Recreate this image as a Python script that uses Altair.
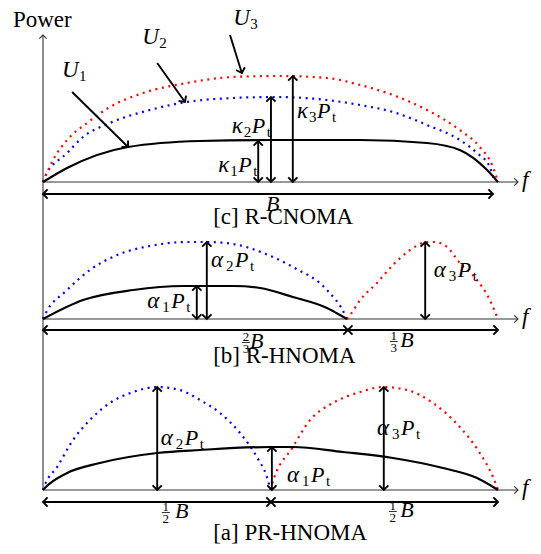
import math
import altair as alt
import pandas as pd

# ---------------- coordinate frame (x in units of B, y in power units) ----------
W, HGT = 525, 538
X_DOMAIN = [-35 / 455, 490 / 455]
Y_DOMAIN = [482 - HGT, 482]
PX = 455.0                       # pixels per B (used only for small label offsets)
OFFSET = {"c": 308, "b": 171, "a": 0}   # vertical offset of each panel's f-axis
SERIF = "Liberation Serif"

# ---------------- spectra (x as fraction of B, power height) --------------------
c_black_x = [0, 0.053, 0.187, 0.345, 0.499, 0.631, 0.697, 0.844, 0.916, 0.976, 1.0]
c_black_h = [0, 14, 35, 41, 42, 42, 42, 39, 32, 12, 0]
c_blue_x = [0, 0.004, 0.053, 0.088, 0.147, 0.235, 0.316, 0.418, 0.510, 0.624, 0.697, 0.769, 0.844, 0.916, 0.954, 0.982, 0.993]
c_blue_h = [0, 5, 29, 45, 59, 72, 80, 84, 85, 82, 77, 70, 57, 42, 29, 15, 0]
c_red_x = [0, 0.022, 0.053, 0.097, 0.147, 0.220, 0.316, 0.418, 0.520, 0.624, 0.697, 0.769, 0.844, 0.916, 0.960, 0.989, 1.0]
c_red_h = [0, 22, 42, 59, 75, 89, 99, 105, 106, 104, 97, 87, 72, 52, 35, 15, 0]

b_blue_x = [0, 0.004, 0.053, 0.103, 0.163, 0.235, 0.316, 0.360, 0.418, 0.484, 0.549, 0.624, 0.664, 0.668]
b_blue_h = [0, 4, 29, 49, 64, 73, 77, 77, 75, 66, 52, 29, 4, 0]
b_black_x = [0, 0.088, 0.198, 0.308, 0.418, 0.477, 0.549, 0.624, 0.664, 0.668]
b_black_h = [0, 19, 29, 33, 33, 31, 22, 11, 1, 0]
b_red_x = [0.668, 0.675, 0.697, 0.734, 0.769, 0.807, 0.844, 0.860, 0.888, 0.916, 0.954, 0.982, 1.0]
b_red_h = [0, 4, 19, 36, 54, 69, 77, 77, 72, 56, 39, 19, 0]

a_blue_x = [0, 0.004, 0.031, 0.066, 0.103, 0.147, 0.198, 0.251, 0.301, 0.345, 0.389, 0.433, 0.470, 0.492, 0.5]
a_blue_h = [0, 5, 23, 50, 70, 87, 98, 103, 100, 90, 77, 57, 33, 13, 0]
a_red_x = [0.5, 0.503, 0.549, 0.587, 0.637, 0.697, 0.747, 0.800, 0.857, 0.916, 0.960, 0.989, 1.0]
a_red_h = [0, 5, 43, 70, 87, 98, 103, 100, 87, 63, 37, 13, 0]
a_black_x = [0, 0.004, 0.053, 0.125, 0.251, 0.345, 0.499, 0.549, 0.659, 0.769, 0.879, 0.954, 1.0]
a_black_h = [0, 2, 17, 27, 37, 40, 43, 43, 38, 32, 22, 12, 0]

curves = [
    ("c", "black", False, c_black_x, c_black_h),
    ("c", "blue", True, c_blue_x, c_blue_h),
    ("c", "red", True, c_red_x, c_red_h),
    ("b", "blue", True, b_blue_x, b_blue_h),
    ("b", "black", False, b_black_x, b_black_h),
    ("b", "red", True, b_red_x, b_red_h),
    ("a", "blue", True, a_blue_x, a_blue_h),
    ("a", "red", True, a_red_x, a_red_h),
    ("a", "black", False, a_black_x, a_black_h),
]

# power arrows: (panel, x, height)
power_arrows = [
    ("c", 0.473, 41), ("c", 0.501, 85), ("c", 0.549, 106),
    ("b", 0.338, 33), ("b", 0.360, 77), ("b", 0.840, 77),
    ("a", 0.251, 103), ("a", 0.503, 43), ("a", 0.749, 103),
]
# bandwidth arrows: (panel, x0, x1, y)
band_arrows = [
    ("c", 0.0, 0.989, -12),
    ("b", 0.0, 0.670, -11), ("b", 0.670, 1.0, -11),
    ("a", 0.0, 0.501, -12), ("a", 0.501, 1.0, -12),
]
X_AXIS_END = 1.044
Y_AXIS_TOP = 455
# user pointer arrows (absolute coordinates): (x0, y0, x1, y1)
user_arrows = [
    (0.064, 398, 0.187, 343),
    (0.251, 427, 0.312, 388),
    (0.411, 455, 0.437, 417),
]

# ---------------- labels ----------------
# math labels: (greek, sub, x, y)
math_labels = [
    ("κ", "1", 0.385, 318), ("κ", "2", 0.415, 357), ("κ", "3", 0.558, 372),
    ("α", "1", 0.229, 182), ("α", "2", 0.369, 223), ("α", "3", 0.859, 213),
    ("α", "2", 0.259, 45), ("α", "1", 0.536, 8), ("α", "3", 0.734, 55),
]
user_labels = [("1", 0.042, 413), ("2", 0.218, 446), ("3", 0.418, 465)]
captions = [("[c] R-CNOMA", 0.374, 266), ("[b] R-HNOMA", 0.374, 127), ("[a] PR-HNOMA", 0.374, -50)]
# fractions of B: (num, den, centre x, B start x, baseline y)
fractions = [
    ("2", "3", 0.446, 0.455, 142), ("1", "3", 0.771, 0.785, 143),
    ("1", "2", 0.270, 0.290, -28), ("1", "2", 0.769, 0.785, -27),
]
plain_B = (0.490, 279)
power_label = ("Power", -0.066, 463)
f_label_x = 1.0527

MATH_SIZE, SUB_SIZE, CAP_SIZE, FRAC_SIZE = 23, 15, 23, 13

# ---------------- build tables ----------------
rows = []
for i, (p, col, dot, xs, hs) in enumerate(curves):
    for x, h in zip(xs, hs):
        rows.append(dict(id=i, x=x, y=OFFSET[p] + h, color=col, dotted=dot))
curve_df = pd.DataFrame(rows)

rules, heads = [], []


def heading(dx, dy):
    return math.degrees(math.atan2(-dy, dx * PX)) % 360


for p, x, h in power_arrows:
    o = OFFSET[p]
    rules.append(dict(x=x, x2=x, y=o, y2=o + h, kind="thick"))
    heads.append(dict(x=x, y=o + h, angle=270, kind="thick"))
    heads.append(dict(x=x, y=o, angle=90, kind="thick"))
for p, x0, x1, yy in band_arrows:
    o = OFFSET[p] + yy
    rules.append(dict(x=x0, x2=x1, y=o, y2=o, kind="thick"))
    heads.append(dict(x=x0, y=o, angle=180, kind="thick"))
    heads.append(dict(x=x1, y=o, angle=0, kind="thick"))
for x0, y0, x1, y1 in user_arrows:
    rules.append(dict(x=x0, x2=x1, y=y0, y2=y1, kind="thick"))
    heads.append(dict(x=x1, y=y1, angle=heading(x1 - x0, y1 - y0), kind="thick"))
for p, o in OFFSET.items():
    rules.append(dict(x=0, x2=X_AXIS_END, y=o, y2=o, kind="thin"))
    heads.append(dict(x=X_AXIS_END, y=o, angle=0, kind="thin"))
rules.append(dict(x=0, x2=0, y=0, y2=Y_AXIS_TOP, kind="thin"))
heads.append(dict(x=0, y=Y_AXIS_TOP, angle=270, kind="thin"))
for num, den, cx, bx, by in fractions:
    rules.append(dict(x=cx - 4 / PX, x2=cx + 4 / PX, y=by + 5.5, y2=by + 5.5, kind="bar"))
rule_df = pd.DataFrame(rules)
head_df = pd.DataFrame(heads)

texts = []
OFFS = {"κ": [0, 12, 20, 35], "α": [0, 15, 24, 39]}
for g, s, x, y in math_labels:
    o = OFFS[g]
    texts.append(dict(x=x + o[0] / PX, y=y, text=g, size=MATH_SIZE, it=True))
    texts.append(dict(x=x + o[1] / PX, y=y - 4, text=s, size=SUB_SIZE, it=False))
    texts.append(dict(x=x + o[2] / PX, y=y, text="P", size=MATH_SIZE - 1, it=True))
    texts.append(dict(x=x + o[3] / PX, y=y - 4, text="t", size=SUB_SIZE, it=False))
for s, x, y in user_labels:
    texts.append(dict(x=x, y=y, text="U", size=23, it=True))
    texts.append(dict(x=x + 17 / PX, y=y - 4, text=s, size=SUB_SIZE, it=False))
for t, x, y in captions:
    texts.append(dict(x=x, y=y, text=t, size=CAP_SIZE, it=False))
for num, den, cx, bx, by in fractions:
    texts.append(dict(x=cx - 3.3 / PX, y=by + 7.5, text=num, size=FRAC_SIZE, it=False))
    texts.append(dict(x=cx - 3.3 / PX, y=by - 5, text=den, size=FRAC_SIZE, it=False))
    texts.append(dict(x=bx, y=by, text="B", size=MATH_SIZE - 1, it=True))
texts.append(dict(x=plain_B[0], y=plain_B[1], text="B", size=MATH_SIZE - 1, it=True))
texts.append(dict(x=power_label[1], y=power_label[2], text=power_label[0], size=CAP_SIZE, it=False))
for p, o in OFFSET.items():
    texts.append(dict(x=f_label_x, y=o - 5, text="f", size=23, it=True))
text_df = pd.DataFrame(texts)

# ---------------- chart ----------------
xs = alt.Scale(domain=X_DOMAIN, nice=False, zero=False)
ys = alt.Scale(domain=Y_DOMAIN, nice=False, zero=False)
X = alt.X("x:Q", scale=xs, axis=None)
Y = alt.Y("y:Q", scale=ys, axis=None)

solid = alt.Chart(curve_df[~curve_df["dotted"]]).mark_line(
    strokeWidth=2.2, interpolate="monotone"
).encode(X, Y, detail="id:N", color=alt.Color("color:N", scale=None))
dotted = alt.Chart(curve_df[curve_df["dotted"]]).mark_line(
    strokeWidth=2.2, interpolate="monotone", strokeDash=[2, 4.6]
).encode(X, Y, detail="id:N", color=alt.Color("color:N", scale=None))

R = alt.Chart(rule_df)
thin_rules = R.transform_filter(alt.datum.kind == "thin").mark_rule(
    strokeWidth=1.1, color="#333333"
).encode(X, Y, x2="x2:Q", y2="y2:Q")
thick_rules = R.transform_filter(alt.datum.kind == "thick").mark_rule(
    strokeWidth=1.9, color="black"
).encode(X, Y, x2="x2:Q", y2="y2:Q")
bars = R.transform_filter(alt.datum.kind == "bar").mark_rule(
    strokeWidth=0.8, color="black"
).encode(X, Y, x2="x2:Q", y2="y2:Q")

CHEVRON = "M -1 -1 L 0 0 L -1 1"
H = alt.Chart(head_df)
thick_heads = H.transform_filter(alt.datum.kind == "thick").mark_point(
    shape=CHEVRON, filled=False, size=85, strokeWidth=1.9, color="black", opacity=1
).encode(X, Y, angle=alt.Angle("angle:Q", scale=None))
thin_heads = H.transform_filter(alt.datum.kind == "thin").mark_point(
    shape=CHEVRON, filled=False, size=55, strokeWidth=1.1, color="#333333", opacity=1
).encode(X, Y, angle=alt.Angle("angle:Q", scale=None))

T = alt.Chart(text_df)
text_it = T.transform_filter(alt.datum.it == True).mark_text(
    align="left", baseline="alphabetic", font=SERIF, fontStyle="italic", color="black"
).encode(X, Y, text="text:N", size=alt.Size("size:Q", scale=None))
text_rm = T.transform_filter(alt.datum.it == False).mark_text(
    align="left", baseline="alphabetic", font=SERIF, color="black"
).encode(X, Y, text="text:N", size=alt.Size("size:Q", scale=None))

chart = alt.layer(
    thin_rules, thin_heads, dotted, solid, thick_rules, thick_heads, bars, text_it, text_rm
).properties(
    width=W, height=HGT, autosize=alt.AutoSizeParams(type="none"), padding=0,
    background="white",
).configure_view(stroke=None)

chart.save("out.html", embed_options={"renderer": "svg", "actions": False})
